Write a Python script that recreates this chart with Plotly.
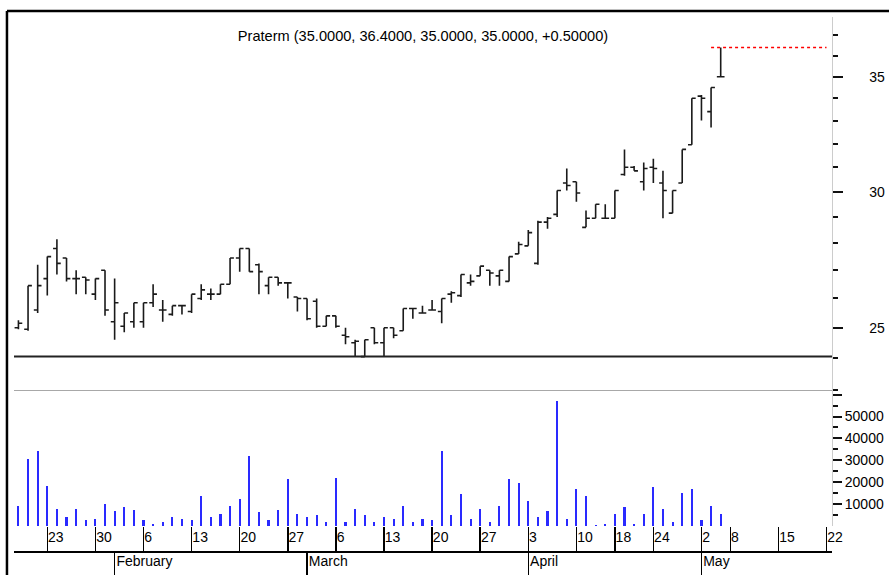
import pandas as pd
import plotly.graph_objects as go

# ---------------- data ----------------
TITLE = "Praterm (35.0000, 36.4000, 35.0000, 35.0000, +0.50000)"
AXIS_FIRST_DAY = "2006-01-16"
AXIS_LAST_DAY = "2006-05-22"
HOLIDAYS = ["2006-04-14", "2006-04-17", "2006-05-01", "2006-05-03"]
FIRST_BAR_DAY = "2006-01-18"

opens = [25.0, 24.95, 25.6, 26.7, 27.8, 27.45, 26.7, 26.75, 26.15, 27.0,
         25.2, 25.05, 25.2, 25.2, 25.85, 25.6, 25.45, 25.75, 25.55, 26.0,
         26.15, 26.15, 26.5, 27.45, 27.8, 27.2, 26.45, 26.75, 26.55, 26.05,
         26.0, 25.9, 25.05, 25.4, 24.75, 24.5, 24.05, 25.0, 24.5, 25.0,
         24.9, 25.65, 25.5, 25.6, 25.55, 26.15, 26.1, 26.55, 26.8, 27.0,
         26.8, 26.6, 27.6, 27.9, 27.25, 28.8, 29.1, 30.35, 30.4, 28.6,
         28.95, 28.95, 28.95, 30.7, 31.0, 30.4, 31.0, 30.35, 29.15, 30.35,
         31.95, 34.1, 33.4, 35.0]
highs = [25.25, 26.45, 27.2, 27.5, 28.15, 27.45, 27.0, 26.75, 26.7, 27.0,
         26.7, 25.5, 25.85, 25.85, 26.5, 25.95, 25.75, 25.75, 26.15, 26.5,
         26.35, 26.5, 27.45, 27.8, 27.8, 27.25, 26.75, 26.75, 26.55, 26.05,
         26.0, 26.0, 25.4, 25.4, 25.0, 24.6, 24.6, 25.0, 25.0, 25.0,
         25.65, 25.65, 25.75, 25.95, 26.0, 26.25, 26.85, 26.85, 27.15, 27.0,
         27.0, 27.5, 28.05, 28.5, 28.85, 29.0, 30.05, 30.95, 30.4, 29.25,
         29.5, 29.5, 30.05, 31.75, 31.05, 31.2, 31.35, 30.85, 30.05, 31.75,
         34.0, 34.15, 34.5, 36.4]
lows = [24.95, 24.9, 25.5, 26.1, 26.85, 26.6, 26.15, 26.15, 25.95, 25.4,
        24.6, 24.85, 25.0, 25.0, 25.7, 25.2, 25.4, 25.45, 25.5, 25.95,
        25.95, 26.15, 26.5, 26.95, 26.95, 26.15, 26.15, 26.45, 26.0, 25.55,
        25.25, 25.0, 25.05, 25.0, 24.45, 24.05, 24.05, 24.45, 24.05, 24.65,
        24.9, 25.3, 25.5, 25.6, 25.15, 25.85, 26.05, 26.45, 26.8, 26.45,
        26.45, 26.6, 27.6, 27.9, 27.2, 28.55, 29.0, 30.05, 29.6, 28.6,
        28.95, 28.95, 28.95, 30.65, 30.85, 30.05, 30.35, 28.95, 29.15, 30.35,
        31.95, 33.0, 32.7, 35.0]
closes = [25.15, 26.45, 26.45, 27.5, 27.25, 26.7, 26.7, 26.65, 26.7, 25.6,
          25.85, 25.5, 25.85, 25.85, 26.15, 25.6, 25.75, 25.75, 26.15, 26.3,
          26.15, 26.5, 27.45, 27.8, 26.95, 26.95, 26.75, 26.55, 26.55, 26.0,
          25.3, 25.05, 25.4, 25.05, 24.7, 24.55, 24.6, 24.5, 25.0, 24.75,
          25.65, 25.65, 25.5, 25.6, 26.0, 26.2, 26.85, 26.6, 27.15, 26.9,
          27.0, 27.5, 27.95, 28.4, 28.8, 28.95, 30.05, 30.25, 29.95, 28.95,
          29.5, 28.95, 30.05, 31.0, 30.85, 30.95, 30.95, 30.05, 30.05, 31.75,
          34.0, 34.0, 34.5, 35.0]
volumes = [9100, 30400, 34200, 18300, 7900, 4300, 7900, 2700, 3300, 10000,
           7000, 8700, 7200, 2600, 1100, 1800, 4100, 3300, 2600, 13900,
           4100, 5600, 9300, 12300, 31800, 6400, 2600, 7200, 21300, 5500,
           4100, 4900, 1800, 22100, 1800, 7800, 4900, 1800, 4100, 3300,
           9300, 1800, 3300, 2600, 34200, 4900, 14600, 3300, 7800, 1800,
           9300, 21300, 19800, 11600, 4100, 7000, 57200, 3300, 16900, 13900,
           500, 1100, 5500, 8500, 1100, 5500, 17700, 7800, 1800, 15200,
           16900, 2600, 9300, 5500]

PRICE_TICKS = [25, 30, 35]
PRICE_MINOR = [23, 24, 26, 27, 28, 29, 31, 32, 33, 34, 36, 37]
VOL_TICKS = [10000, 20000, 30000, 40000, 50000, 60000]
VOL_TICK_TEXT = ["10000", "20000", "30000", "40000", "50000", ""]
VOL_MINOR = [5000, 15000, 25000, 35000, 45000, 55000]

# ---------------- trading calendar (x positions) ----------------
cal = [d for d in pd.bdate_range(AXIS_FIRST_DAY, AXIS_LAST_DAY)
       if d.strftime("%Y-%m-%d") not in HOLIDAYS]
start = cal.index(pd.Timestamp(FIRST_BAR_DAY))
xs = list(range(start, start + len(closes)))

week_idx, week_lbl, month_idx, month_lbl = [], [], [], []
for i, d in enumerate(cal):
    if i == 0 or d.isocalendar()[1] != cal[i - 1].isocalendar()[1]:
        week_idx.append(i)
        week_lbl.append(str(d.day))
    if i > 0 and d.month != cal[i - 1].month:
        month_idx.append(i)
        month_lbl.append(d.strftime("%B"))

FIG = "\u2007"  # figure space (digit width) to right-align price labels
price_text = [FIG * (5 - len(str(v))) + str(v) for v in PRICE_TICKS]

XR = [1.54, 86.57]
FONT = "Liberation Sans Narrow, Arial Narrow, Liberation Sans, Arial, sans-serif"
FS = 14

fig = go.Figure()
fig.add_trace(go.Ohlc(
    x=xs, open=opens, high=highs, low=lows, close=closes,
    xaxis="x", yaxis="y", tickwidth=0.4,
    increasing=dict(line=dict(color="#1a1a1a", width=1.6)),
    decreasing=dict(line=dict(color="#1a1a1a", width=1.6)),
    showlegend=False, hoverinfo="skip"))
fig.add_trace(go.Bar(
    x=xs, y=volumes, xaxis="x2", yaxis="y2", width=0.22,
    marker=dict(color="#2a2aff", line=dict(width=0)),
    showlegend=False, hoverinfo="skip"))
fig.add_trace(go.Scatter(
    x=[xs[-1]], y=[0], xaxis="x3", yaxis="y2", mode="markers",
    marker=dict(opacity=0), showlegend=False, hoverinfo="skip"))

fig.update_layout(
    width=889, height=575,
    margin=dict(l=14, r=57, t=17, b=23, autoexpand=False),
    paper_bgcolor="white", plot_bgcolor="white",
    font=dict(family=FONT, size=FS, color="black"),
    title=dict(text=TITLE, x=0.5, xref="paper", y=0.9645, yref="paper",
               xanchor="center", yanchor="middle",
               font=dict(family=FONT, size=14.6, color="black")),
    bargap=0,
    xaxis=dict(domain=[0, 1], anchor="y", range=XR, showticklabels=False,
               ticks="", showgrid=False, zeroline=False, automargin=False,
               showline=True, linecolor="#a8a8a8", linewidth=1,
               rangeslider=dict(visible=False)),
    xaxis2=dict(domain=[0, 1], anchor="y2", range=XR, showgrid=False,
                zeroline=False, showline=False, automargin=False,
                ticks="outside", ticklen=26, tickwidth=1.5, tickcolor="black",
                tickmode="array", tickvals=week_idx, ticktext=week_lbl,
                ticklabelposition="outside right", ticklabelstandoff=-2,
                tickfont=dict(size=FS)),
    xaxis3=dict(overlaying="x2", anchor="free", position=0, range=XR,
                showgrid=False, zeroline=False, automargin=False,
                showline=True, linecolor="black", linewidth=2,
                ticks="outside", ticklen=23, tickwidth=1.5, tickcolor="black",
                tickmode="array", tickvals=month_idx, ticktext=month_lbl,
                ticklabelposition="outside right", ticklabelstandoff=-4,
                tickfont=dict(size=FS)),
    yaxis=dict(domain=[0.3028, 1], anchor="x", side="right", type="log",
               range=[1.36167, 1.57882], showgrid=False, zeroline=False,
               automargin=False,
               showline=True, linecolor="#cccccc", linewidth=1,
               ticks="outside", ticklen=10, tickwidth=2, tickcolor="#111111",
               tickmode="array", tickvals=PRICE_TICKS, ticktext=price_text,
               minor=dict(tickmode="array", tickvals=PRICE_MINOR,
                          ticks="outside", ticklen=5, tickwidth=2,
                          tickcolor="#111111", showgrid=False)),
    yaxis2=dict(domain=[0.0486, 0.3028], anchor="x2", side="right",
                range=[0, 62100], showgrid=False, zeroline=False,
                automargin=False,
                showline=True, linecolor="#cccccc", linewidth=1,
                ticks="outside", ticklen=9, tickwidth=2, tickcolor="#111111",
                tickmode="array", tickvals=VOL_TICKS, ticktext=VOL_TICK_TEXT,
                minor=dict(tickmode="array", tickvals=VOL_MINOR,
                           ticks="outside", ticklen=5, tickwidth=2,
                           tickcolor="#111111", showgrid=False)),
)

# support line at the period low, red dotted line at the last high
fig.add_shape(type="line", xref="x domain", x0=0, x1=1, yref="y",
              y0=min(lows), y1=min(lows),
              line=dict(color="#222222", width=2))
fig.add_shape(type="line", xref="x", x0=xs[-2], x1=len(cal) - 1, yref="y",
              y0=highs[-1], y1=highs[-1],
              line=dict(color="red", width=1.5, dash="dot"))
# outer frame (top and left)
fig.add_shape(type="line", xref="paper", yref="paper", x0=-0.0086, x1=1.08,
              y0=1.0112, y1=1.0112, line=dict(color="black", width=2.5))
fig.add_shape(type="line", xref="paper", yref="paper", x0=-0.0086, x1=-0.0086,
              y0=-0.05, y1=1.0112, line=dict(color="black", width=2.5))

# the page's default 8px body margin would offset the 889x575 figure
fig.write_html("out.html",
               config={"displayModeBar": False, "staticPlot": True},
               post_script="document.body.style.margin='0';"
                           "document.body.style.overflow='hidden';")
